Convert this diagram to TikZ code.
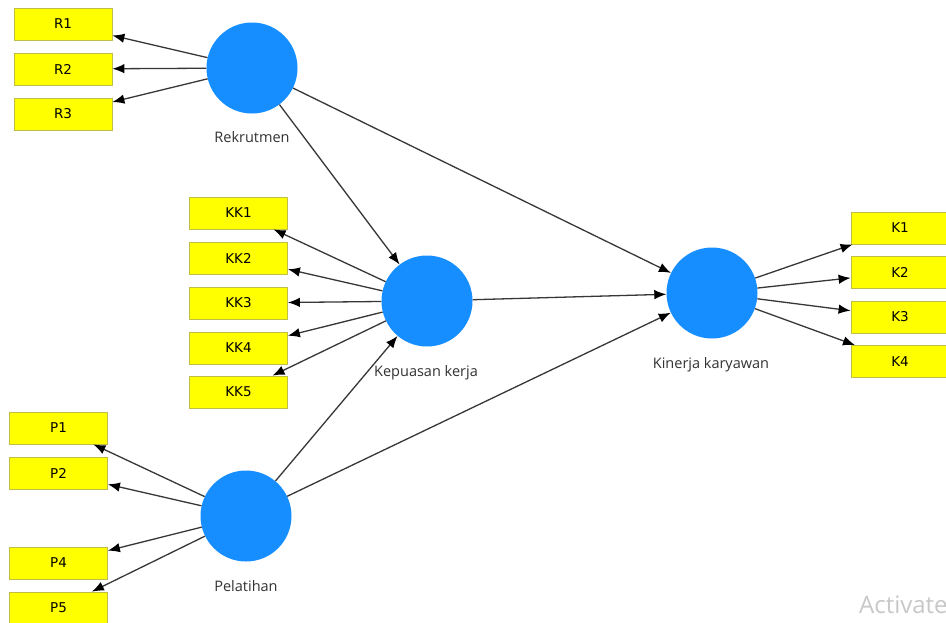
\documentclass[tikz,border=0pt]{standalone}
\usepackage{fontspec}
\setmainfont{DejaVu Sans}
\newfontfamily\labelfont{Open Sans}
\usetikzlibrary{arrows.meta}

\definecolor{latentblue}{RGB}{22,142,255}
\definecolor{itemyellow}{RGB}{255,255,0}
\definecolor{itemedge}{RGB}{190,190,70}
\definecolor{pathgray}{RGB}{55,55,55}
\definecolor{labelgray}{RGB}{50,50,50}
\definecolor{watermark}{RGB}{200,200,200}

\tikzset{
  latent/.style={circle, fill=latentblue, draw=none, minimum size=91pt, inner sep=0pt},
  indicator/.style={rectangle, fill=itemyellow, draw=itemedge, line width=0.8pt,
    minimum width=98pt, minimum height=32pt, inner sep=0pt,
    font=\fontsize{13.5}{15}\selectfont},
  latentlabel/.style={anchor=base, text=labelgray, font=\labelfont\fontsize{14.5}{17}\selectfont},
  path/.style={draw=pathgray, line width=1.3pt, -{Latex[length=12pt,width=9.5pt,color=black]}},
}

\begin{document}
\begin{tikzpicture}[x=1pt, y=-1pt]
  \useasboundingbox (0,0) rectangle (946,622);
  \clip (0,0) rectangle (946,622);
  \fill[white] (0,0) rectangle (946,622);

  % latent variables
  \node[latent] (rek) at (252,68) {};
  \node[latent] (kep) at (427,301) {};
  \node[latent] (kin) at (712,293) {};
  \node[latent] (pel) at (246,516) {};

  \node[latentlabel] (lrek) at (252,142) {Rekrutmen};
  \node[latentlabel] (lkep) at (426,376) {Kepuasan kerja};
  \node[latentlabel] (lkin) at (711,368) {Kinerja karyawan};
  \node[latentlabel] (lpel) at (246,591) {Pelatihan};

  % indicators of Rekrutmen
  \node[indicator] (r1) at (63,24) {R1};
  \node[indicator] (r2) at (63,69) {R2};
  \node[indicator] (r3) at (63,114) {R3};

  % indicators of Kepuasan kerja
  \node[indicator] (kk1) at (238.5,213) {KK1};
  \node[indicator] (kk2) at (238.5,258) {KK2};
  \node[indicator] (kk3) at (238.5,303) {KK3};
  \node[indicator] (kk4) at (238.5,348) {KK4};
  \node[indicator] (kk5) at (238.5,392) {KK5};

  % indicators of Pelatihan
  \node[indicator] (p1) at (58.5,428) {P1};
  \node[indicator] (p2) at (58.5,473) {P2};
  \node[indicator] (p4) at (58.5,563) {P4};
  \node[indicator] (p5) at (58.5,608) {P5};

  % indicators of Kinerja karyawan
  \node[indicator] (k1) at (900,228) {K1};
  \node[indicator] (k2) at (900,272.5) {K2};
  \node[indicator] (k3) at (900,317) {K3};
  \node[indicator] (k4) at (900,361.5) {K4};

  % outer model
  \foreach \i in {r1,r2,r3} \draw[path] (rek) -- (\i);
  \foreach \i in {kk1,kk2,kk3,kk4,kk5} \draw[path] (kep) -- (\i);
  \foreach \i in {p1,p2,p4,p5} \draw[path] (pel) -- (\i);
  \foreach \i in {k1,k2,k3,k4} \draw[path] (kin) -- (\i);

  % inner model
  \draw[path] (rek) -- (kep);
  \draw[path] (rek) -- (kin);
  \draw[path] (kep) -- (kin);
  \draw[path] (pel) -- (kep);
  \draw[path] (pel) -- (kin);

  \node[anchor=base west, inner sep=0pt, text=watermark,
        font=\labelfont\fontsize{24}{28}\selectfont] (wm) at (859,613) {Activate};
\end{tikzpicture}
\end{document}
